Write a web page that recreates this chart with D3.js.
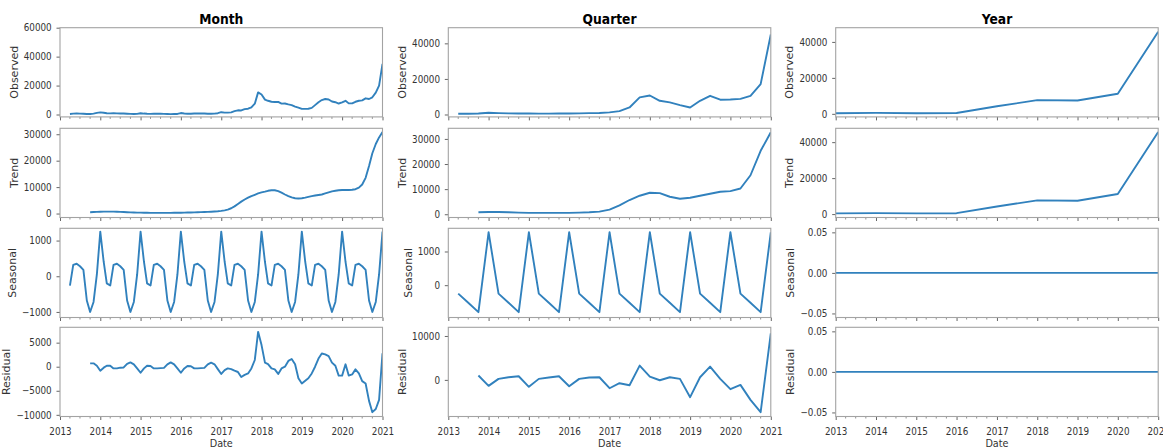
<!DOCTYPE html>
<html>
<head>
<meta charset="utf-8">
<script src="https://cdn.jsdelivr.net/npm/d3@7"></script>
<style>
  html, body { margin: 0; padding: 0; background: #fff; }
  svg { display: block; font-family: "DejaVu Sans", sans-serif; }
</style>
</head>
<body>
<svg id="chart" width="1163" height="448"></svg>
<script>
// ---------- data ----------
// Monthly decomposition, 2013-04 .. 2021-01 (94 months)
const monthObserved = [
  400, 600, 650, 600, 550, 400, 350, 600, 1100,
  1500, 1200, 900, 800, 850, 800, 750, 700, 550, 450, 400, 450,
  900, 650, 500, 450, 500, 500, 480, 450, 350, 300, 330, 400,
  1000, 700, 500, 500, 650, 700, 700, 650, 550, 500, 600, 900,
  1600, 1300, 1300, 1500, 2300, 2900, 2800, 3700, 4000, 5000, 7500, 15300,
  13800, 10300, 9500, 8800, 8600, 8700, 7500, 7600, 7000, 6500, 5500, 4800,
  3900, 3900, 4000, 4600, 6500, 8500, 10000, 10700, 10400, 9000, 8500, 7600,
  8400, 9500, 7700, 7700, 8800, 9500, 9800, 11200, 10700, 11900, 15100, 20000,
  35000
];
const monthTrend = [
  null, null, null, null, null, null, 500, 560, 620,
  680, 720, 740, 740, 720, 680, 620, 560, 500, 440, 400, 360,
  330, 300, 280, 260, 250, 240, 240, 240, 250, 260, 270, 290,
  310, 340, 370, 400, 440, 480, 520, 560, 620, 680, 760, 860,
  1000, 1200, 1500, 2000, 2700, 3600, 4500, 5300, 6000, 6600, 7100, 7600,
  8000, 8300, 8600, 8800, 8800, 8500, 7900, 7200, 6600, 6100, 5800, 5700,
  5800, 6000, 6300, 6600, 6800, 7000, 7200, 7600, 8000, 8400, 8600, 8800,
  8900, 8900, 8900, 9000, 9200, 9800, 11000, 13500, 18000, 22800, 26300, 28800,
  30800
];
const monthSeasonal = [
  -260, 320, 350, 280, 180, -680, -1000, -720, 50,
  1250, 400, -200, -260, 320, 350, 280, 180, -680, -1000, -720, 50,
  1250, 400, -200, -260, 320, 350, 280, 180, -680, -1000, -720, 50,
  1250, 400, -200, -260, 320, 350, 280, 180, -680, -1000, -720, 50,
  1250, 400, -200, -260, 320, 350, 280, 180, -680, -1000, -720, 50,
  1250, 400, -200, -260, 320, 350, 280, 180, -680, -1000, -720, 50,
  1250, 400, -200, -260, 320, 350, 280, 180, -680, -1000, -720, 50,
  1250, 400, -200, -260, 320, 350, 280, 180, -680, -1000, -720, 50,
  1250
];
const monthResidual = [
  null, null, null, null, null, null, 700, 700, 200,
  -830, -200, 200, 200, -350, -350, -200, -150, 600, 900, 500, -350,
  -1250, -350, 200, 150, -350, -350, -300, -250, 500, 900, 500, -350,
  -1250, -350, 150, 100, -350, -350, -300, -250, 500, 850, 500, -500,
  -1500, -700, -350, -500, -830, -1100, -2150, -1700, -1400, -350, 1400, 7250,
  4500, 850, 550, -350, -550, -1500, -350, 0, 1200, 1600, 500, -2400,
  -3500, -2900, -2400, -1400, 0, 1700, 2750, 2550, 2200, 850, 200, -1850,
  -1850, 500, -1850, -1600, -550, -1400, -3000, -3500, -7100, -9450, -8800, -6900,
  2800
];

// Quarterly decomposition, 2013-Q2 .. 2021-Q1 (32 quarters)
const quarterObserved = [
  380, 400, 600,
  950, 800, 650, 600,
  550, 500, 500, 520,
  600, 620, 750, 850,
  1200, 1900, 3950, 9600,
  10700, 7700, 6800, 5300,
  3950, 7700, 10500, 8300,
  8450, 8800, 10500, 17100,
  45000
];
const quarterTrend = [
  null, null, 790,
  920, 920, 790, 660,
  530, 530, 530, 530,
  530, 660, 790, 1050,
  1840, 3550, 5660, 7370,
  8550, 8420, 6970, 6180,
  6580, 7370, 8160, 8950,
  9210, 10260, 15530, 25260,
  32630
];
const quarterSeasonal = [
  -250, -520, -800,
  1570, -250, -520, -800,
  1570, -250, -520, -800,
  1570, -250, -520, -800,
  1570, -250, -520, -800,
  1570, -250, -520, -800,
  1570, -250, -520, -800,
  1570, -250, -520, -800,
  1570
];
const quarterResidual = [
  null, null, 990,
  -1360, 230, 600, 830,
  -1590, 230, 530, 830,
  -1440, 230, 530, 600,
  -1900, -760, -1210, 3260,
  760, -80, 600, 230,
  -3940, 600, 3030, 230,
  -2120, -1140, -4550, -7350,
  10600
];

// Yearly decomposition, 2013 .. 2021
const yearObserved = [370, 560, 370, 500, 4200, 7600, 7400, 11200, 45700];
const yearTrend    = [370, 560, 370, 500, 4200, 7600, 7400, 11200, 45700];
const yearSeasonal = [0, 0, 0, 0, 0, 0, 0, 0, 0];
const yearResidual = [0, 0, 0, 0, 0, 0, 0, 0, 0];

// Component names and per-panel y limits / ticks
const componentLabels = ["Observed", "Trend", "Seasonal", "Residual"];
const columnTitles = ["Month", "Quarter", "Year"];

const monthYDomains   = [[-1650, 60000], [-1500, 32250], [-1156, 1344], [-10350, 8195]];
const quarterYDomains = [[-1350, 48800], [-1300, 34230], [-959, 1688], [-8340, 11977]];
const yearYDomains    = [[-1700, 47900], [-1900, 47700], [-0.055, 0.055], [-0.055, 0.055]];

const monthYTicks   = [[0, 20000, 40000, 60000], [0, 10000, 20000, 30000], [-1000, 0, 1000], [-10000, -5000, 0, 5000]];
const quarterYTicks = [[0, 20000, 40000], [0, 10000, 20000, 30000], [0, 1000], [0, 10000]];
const yearYTicks    = [[0, 20000, 40000], [0, 20000, 40000], [-0.05, 0, 0.05], [-0.05, 0, 0.05]];

// ---------- dates ----------
const monthDates   = d3.timeMonth.range(new Date(2013, 3, 1), new Date(2021, 0, 2));
const quarterDates = d3.timeMonth.every(3).range(new Date(2013, 3, 1), new Date(2021, 0, 2));
const yearDates    = d3.timeYear.range(new Date(2013, 0, 1), new Date(2021, 0, 2));

// ---------- layout ----------
const SX = 0.88;                       // horizontal squeeze of the text
const colLeft = [60, 448.3, 835.7];
const rowTop = [27.7, 128.3, 228.3, 327.3];
const panelW = 322.5, panelH = 89.2;
const lineColor = "#3181bd";
const frameColor = "#a3a3a3";
const textColor = "#333";

const fmtInt = d3.format("d");
const fmtDec = d3.format(".2f");

const columns = [
  { dates: monthDates, series: [monthObserved, monthTrend, monthSeasonal, monthResidual],
    domains: monthYDomains, ticks: monthYTicks, fmt: [fmtInt, fmtInt, fmtInt, fmtInt] },
  { dates: quarterDates, series: [quarterObserved, quarterTrend, quarterSeasonal, quarterResidual],
    domains: quarterYDomains, ticks: quarterYTicks, fmt: [fmtInt, fmtInt, fmtInt, fmtInt] },
  { dates: yearDates, series: [yearObserved, yearTrend, yearSeasonal, yearResidual],
    domains: yearYDomains, ticks: yearYTicks, fmt: [fmtInt, fmtInt, fmtDec, fmtDec] }
];

const svg = d3.select("#chart");
const defs = svg.append("defs");

const xDomain = [new Date(2013, 0, 1), new Date(2021, 0, 1)];
const yearTicks = d3.timeYear.range(new Date(2013, 0, 1), new Date(2021, 0, 2));
const minorTicks = d3.timeMonth.every(3).range(new Date(2013, 0, 1), new Date(2021, 0, 1))
  .filter(d => d.getMonth() !== 0);

columns.forEach((col, c) => {
  const x = d3.scaleTime().domain(xDomain).range([0, panelW]);

  // column title
  svg.append("text")
    .attr("transform", `translate(${colLeft[c] + panelW / 2},${24}) scale(${SX},1)`)
    .attr("text-anchor", "middle")
    .attr("font-size", 14)
    .attr("font-weight", "bold")
    .attr("fill", "#000")
    .text(columnTitles[c]);

  col.series.forEach((values, r) => {
    const g = svg.append("g").attr("transform", `translate(${colLeft[c]},${rowTop[r]})`);
    const y = d3.scaleLinear().domain(col.domains[r]).range([panelH, 0]);

    const clipId = `clip-${c}-${r}`;
    defs.append("clipPath").attr("id", clipId)
      .append("rect").attr("width", panelW).attr("height", panelH);

    const pts = values.map((v, i) => ({ date: col.dates[i], v }));
    const line = d3.line()
      .defined(d => d.v !== null)
      .x(d => x(d.date))
      .y(d => y(d.v));

    g.append("path")
      .datum(pts)
      .attr("clip-path", `url(#${clipId})`)
      .attr("fill", "none")
      .attr("stroke", lineColor)
      .attr("stroke-width", 1.9)
      .attr("stroke-linejoin", "round")
      .attr("stroke-linecap", "butt")
      .attr("d", line);

    // y axis
    const yAxis = g.append("g")
      .call(d3.axisLeft(y).tickValues(col.ticks[r]).tickFormat(col.fmt[r]).tickSize(3.5).tickSizeOuter(0));
    yAxis.select(".domain").remove();
    yAxis.selectAll(".tick line").attr("stroke", "#666");
    yAxis.selectAll(".tick text")
      .attr("font-size", 10)
      .attr("font-family", "DejaVu Sans, sans-serif")
      .attr("fill", textColor)
      .attr("x", -8.3 / SX)
      .attr("transform", `scale(${SX},1)`);

    // x axis: yearly major ticks, quarterly minor ticks
    const xAxis = g.append("g")
      .attr("transform", `translate(0,${panelH})`)
      .call(d3.axisBottom(x).tickValues(yearTicks)
        .tickFormat(r === 3 ? d3.timeFormat("%Y") : () => "")
        .tickSize(3.5).tickSizeOuter(0));
    xAxis.select(".domain").remove();
    xAxis.selectAll(".tick line").attr("stroke", "#666");
    xAxis.selectAll(".tick text")
      .attr("font-size", 10)
      .attr("font-family", "DejaVu Sans, sans-serif")
      .attr("fill", textColor)
      .attr("y", 11)
      .attr("transform", `scale(${SX},1)`);
    xAxis.selectAll(".minor")
      .data(minorTicks)
      .enter().append("line")
      .attr("class", "minor")
      .attr("x1", d => x(d)).attr("x2", d => x(d))
      .attr("y1", 0).attr("y2", 2)
      .attr("stroke", "#777").attr("stroke-width", 0.8);

    // frame
    g.append("rect")
      .attr("width", panelW).attr("height", panelH)
      .attr("fill", "none")
      .attr("stroke", frameColor)
      .attr("stroke-width", 1.1);

    // component label, left of the tick labels
    const bb = yAxis.node().getBBox();
    const cx = colLeft[c] + bb.x - 9.5;
    svg.append("text")
      .attr("transform", `translate(${cx + 3.5},${rowTop[r] + panelH / 2}) scale(${SX},1) rotate(-90)`)
      .attr("text-anchor", "middle")
      .attr("font-size", 11)
      .attr("fill", textColor)
      .text(componentLabels[r]);
  });

  // x axis title
  svg.append("text")
    .attr("transform", `translate(${colLeft[c] + panelW / 2},${446.5}) scale(${SX},1)`)
    .attr("text-anchor", "middle")
    .attr("font-size", 11)
    .attr("fill", textColor)
    .text("Date");
});
</script>
</body>
</html>
